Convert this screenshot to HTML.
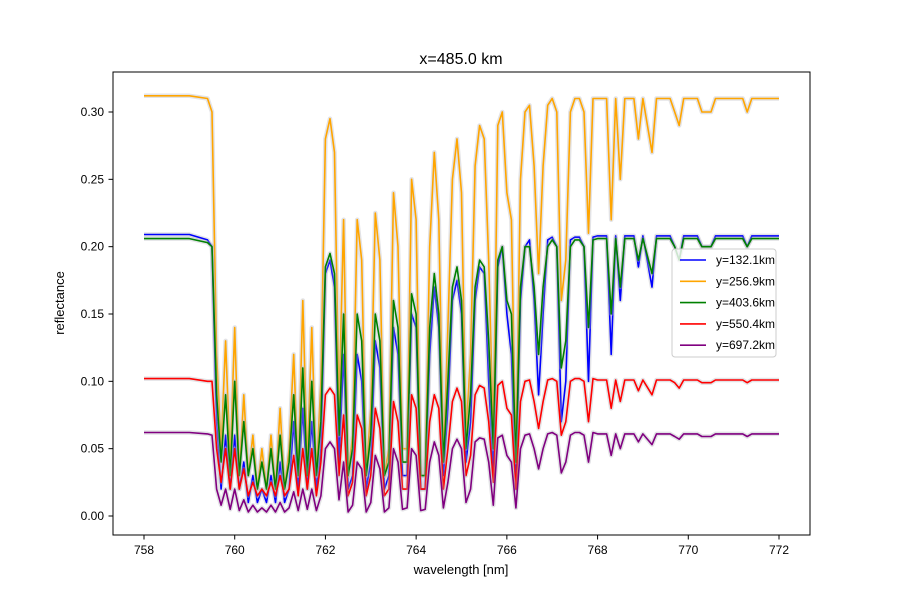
<!DOCTYPE html>
<html><head><meta charset="utf-8"><style>
body{margin:0;background:#fff}
svg{font-family:"Liberation Sans","DejaVu Sans",sans-serif}
</style></head><body>
<svg id="chart" width="900" height="600" xmlns="http://www.w3.org/2000/svg">
<rect width="900" height="600" fill="#fff"/>
<text x="461" y="64" font-size="16" text-anchor="middle">x=485.0 km</text>
<text x="461" y="574" font-size="13" text-anchor="middle">wavelength [nm]</text>
<text transform="translate(64,303) rotate(-90)" font-size="13" text-anchor="middle">reflectance</text>
<g id="plot"></g>
<rect x="113" y="72" width="697" height="463" fill="none" stroke="#000" stroke-width="1"/>
<g id="axes"></g>
<g id="legend"></g>
</svg>
<script>
const xTicks=[758,760,762,764,766,768,770,772];
const yTicks=[0,0.05,0.10,0.15,0.20,0.25,0.30];
const seriesNames=["y=132.1km","y=256.9km","y=403.6km","y=550.4km","y=697.2km"];
const seriesColors=["blue","orange","green","red","purple"];
const headW=[758,759,759.4];
const tailW=[768.0,768.2,768.3,768.4,768.5,768.6,768.8,768.9,769.0,769.2,769.3,769.6,769.7,769.8,769.9,770.2,770.3,770.5,770.6,771.2,771.3,771.4,772];
const midStart=759.5, midStep=0.1, midCount=85;
const orange=[0.312,0.312,0.310,
0.30,0.12,0.05,0.13,0.04,0.14,0.03,0.09,0.03,0.06,0.02,0.05,0.02,0.06,0.02,0.08,0.02,0.05,0.12,0.03,0.16,0.04,0.14,0.03,0.10,0.28,0.295,0.27,0.08,0.22,0.03,0.06,0.22,0.19,0.03,0.08,0.225,0.19,0.03,0.05,0.24,0.20,0.05,0.05,0.25,0.22,0.03,0.03,0.20,0.27,0.22,0.04,0.14,0.25,0.28,0.24,0.06,0.12,0.26,0.29,0.28,0.19,0.06,0.29,0.30,0.24,0.22,0.04,0.25,0.30,0.305,0.26,0.18,0.26,0.305,0.31,0.30,0.16,0.19,0.30,0.31,0.31,0.30,0.21,0.31,
0.31,0.31,0.22,0.31,0.25,0.31,0.31,0.28,0.31,0.27,0.31,0.31,0.30,0.29,0.31,0.31,0.30,0.30,0.31,0.31,0.30,0.31,0.31];
const green=[0.206,0.206,0.203,
0.20,0.09,0.04,0.09,0.03,0.10,0.03,0.07,0.03,0.05,0.02,0.04,0.02,0.05,0.02,0.06,0.02,0.04,0.09,0.03,0.11,0.03,0.10,0.03,0.07,0.185,0.195,0.18,0.06,0.15,0.03,0.05,0.15,0.13,0.03,0.06,0.15,0.13,0.03,0.04,0.16,0.14,0.04,0.04,0.165,0.15,0.03,0.03,0.14,0.18,0.15,0.04,0.10,0.17,0.185,0.16,0.05,0.09,0.17,0.19,0.185,0.13,0.05,0.19,0.20,0.16,0.15,0.04,0.17,0.20,0.20,0.17,0.12,0.17,0.20,0.205,0.20,0.11,0.13,0.20,0.205,0.205,0.20,0.14,0.205,
0.206,0.206,0.15,0.206,0.17,0.206,0.206,0.19,0.206,0.18,0.206,0.206,0.20,0.19,0.206,0.206,0.20,0.20,0.206,0.206,0.20,0.206,0.206];
const blue=[0.209,0.209,0.205,
0.20,0.07,0.02,0.06,0.02,0.06,0.02,0.04,0.01,0.03,0.01,0.02,0.01,0.03,0.01,0.04,0.01,0.02,0.07,0.02,0.08,0.02,0.07,0.02,0.05,0.18,0.19,0.17,0.04,0.12,0.02,0.03,0.12,0.10,0.02,0.04,0.13,0.11,0.02,0.03,0.14,0.12,0.03,0.03,0.15,0.14,0.02,0.02,0.12,0.17,0.14,0.03,0.08,0.16,0.175,0.15,0.04,0.07,0.16,0.185,0.18,0.10,0.03,0.185,0.20,0.15,0.12,0.02,0.16,0.20,0.205,0.16,0.09,0.15,0.205,0.207,0.20,0.07,0.10,0.205,0.207,0.207,0.20,0.10,0.207,
0.208,0.208,0.12,0.208,0.16,0.208,0.208,0.185,0.208,0.17,0.208,0.208,0.20,0.19,0.208,0.208,0.20,0.20,0.208,0.208,0.20,0.208,0.208];
const red=[0.102,0.102,0.100,
0.10,0.05,0.025,0.05,0.02,0.05,0.02,0.035,0.015,0.025,0.015,0.02,0.015,0.025,0.015,0.03,0.015,0.02,0.045,0.015,0.05,0.02,0.05,0.015,0.04,0.09,0.095,0.09,0.03,0.075,0.015,0.025,0.075,0.065,0.015,0.03,0.08,0.065,0.015,0.02,0.085,0.07,0.02,0.02,0.09,0.08,0.02,0.02,0.07,0.09,0.08,0.02,0.05,0.085,0.095,0.085,0.03,0.045,0.09,0.097,0.095,0.07,0.025,0.097,0.10,0.08,0.075,0.02,0.085,0.10,0.101,0.085,0.065,0.085,0.101,0.102,0.10,0.06,0.07,0.10,0.102,0.102,0.10,0.07,0.102,
0.101,0.101,0.08,0.101,0.085,0.101,0.101,0.093,0.101,0.09,0.101,0.101,0.099,0.095,0.101,0.101,0.099,0.099,0.101,0.101,0.099,0.101,0.101];
const purple=[0.062,0.062,0.061,
0.06,0.02,0.008,0.02,0.005,0.02,0.004,0.012,0.003,0.008,0.003,0.006,0.003,0.008,0.003,0.01,0.003,0.006,0.018,0.004,0.02,0.005,0.02,0.004,0.015,0.05,0.055,0.05,0.012,0.04,0.003,0.008,0.04,0.035,0.003,0.01,0.045,0.035,0.003,0.006,0.05,0.04,0.005,0.006,0.05,0.045,0.004,0.005,0.04,0.055,0.045,0.006,0.025,0.05,0.057,0.05,0.01,0.02,0.055,0.058,0.057,0.04,0.008,0.058,0.06,0.045,0.04,0.006,0.05,0.06,0.061,0.05,0.035,0.05,0.061,0.062,0.06,0.032,0.04,0.06,0.062,0.062,0.06,0.04,0.062,
0.061,0.061,0.045,0.061,0.05,0.061,0.061,0.055,0.061,0.053,0.061,0.061,0.059,0.057,0.061,0.061,0.059,0.059,0.061,0.061,0.059,0.061,0.061];
const seriesData=[blue,orange,green,red,purple];

const NS="http://www.w3.org/2000/svg";
const wl=headW.slice();
for(let i=0;i<midCount;i++) wl.push(+(midStart+i*midStep).toFixed(2));
tailW.forEach(w=>wl.push(w));
const xS=w=>144+(w-758)*(779-144)/14;
const yS=v=>516-v*(516-112)/0.30;
function mk(tag,attrs,parent){const e=document.createElementNS(NS,tag);for(const k in attrs)e.setAttribute(k,attrs[k]);parent.appendChild(e);return e;}
const plot=document.getElementById('plot'),axes=document.getElementById('axes'),leg=document.getElementById('legend');
seriesData.forEach((s,si)=>{
  const n=Math.min(s.length,wl.length);
  let d='';
  for(let i=0;i<n;i++) d+=(i?'L':'M')+xS(wl[i]).toFixed(1)+','+yS(s[i]).toFixed(1);
  const band=mk('path',{d:d,fill:'none',stroke:'#b0b0b8','stroke-opacity':'0.35','stroke-width':'4.5','stroke-linejoin':'round'},plot);
  
  
  const line=mk('path',{d:d,fill:'none',stroke:seriesColors[si],'stroke-width':'1.6','stroke-linejoin':'round'},plot);
  
  
});
xTicks.forEach(t=>{
  const x=xS(t);
  const tk=mk('line',{x1:x,x2:x,y1:535,y2:539.5,stroke:'#000'},axes);
  
  
  const lb=mk('text',{x:x,y:554,'font-size':'12','text-anchor':'middle'},axes);
  lb.textContent=t;
  
  
});
yTicks.forEach(t=>{
  const y=yS(t);
  const tk=mk('line',{x1:108.5,x2:113,y1:y,y2:y,stroke:'#000'},axes);
  
  
  const lb=mk('text',{x:104,y:y+4,'font-size':'12','text-anchor':'end'},axes);
  lb.textContent=t.toFixed(2);
  
  
});
const box=mk('rect',{x:672,y:249,width:104,height:108,rx:3,fill:'#fff','fill-opacity':'0.8',stroke:'#ccc'},leg);


seriesNames.forEach((nm,i)=>{
  const y=260+i*21.3;
  const ln=mk('line',{x1:680,x2:706,y1:y,y2:y,stroke:seriesColors[i],'stroke-width':'1.6'},leg);
  
  
  const tx=mk('text',{x:716,y:y+4,'font-size':'12'},leg);
  tx.textContent=nm;
  
  
});
</script>
</body></html>
